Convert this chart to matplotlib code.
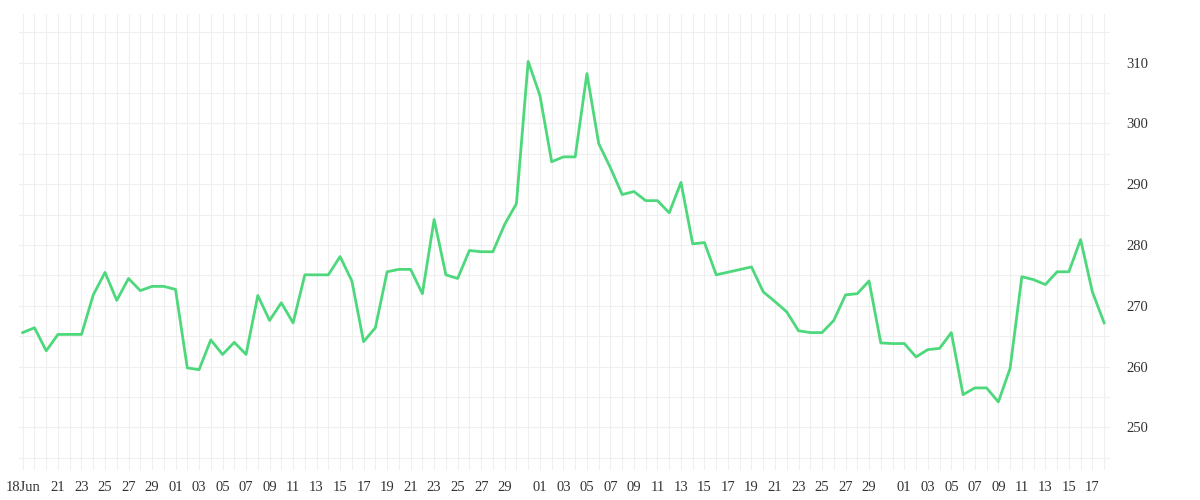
import matplotlib.pyplot as plt
import numpy as np

# day offset from 18 Jun, value
days = [0, 1, 2, 3, 4, 5, 6, 7, 8, 9, 10, 11, 12, 13, 14, 15, 16, 17, 18, 19,
        20, 21, 22, 23, 24, 25, 26, 27, 28, 29, 30, 31, 32, 33, 34, 35, 36, 37, 38, 39,
        40, 41, 42, 43, 44, 45, 46, 47, 48, 49, 50, 51, 52, 53, 54, 55, 56, 57, 58, 59,
        62, 63, 64, 65, 66, 67, 68, 69, 70, 71, 72, 73, 74, 75, 76, 77, 78, 79, 80,
        81, 82, 83, 84, 85, 86, 87, 88, 89, 90, 91, 92]
vals = [265.6, 266.4, 262.6, 265.3, 265.3, 265.3, 271.8, 275.5, 270.9, 274.5,
        272.5, 273.2, 273.2, 272.7, 259.8, 259.5, 264.4, 262.0, 264.0, 262.0,
        271.7, 267.6, 270.5, 267.2, 275.1, 275.1, 275.1, 278.1, 274.1, 264.1,
        266.4, 275.6, 276.0, 276.0, 272.0, 284.2, 275.1, 274.5, 279.1, 278.9,
        278.9, 283.4, 286.8, 310.2, 304.6, 293.7, 294.5, 294.5, 308.2, 296.7,
        292.7, 288.3, 288.8, 287.3, 287.3, 285.3, 290.3, 280.2, 280.4, 275.1,
        276.4, 272.3, 270.7, 269.0, 265.9, 265.6, 265.6, 267.6, 271.8, 272.0,
        274.1, 263.9, 263.8, 263.8, 261.6, 262.8, 263.0, 265.6, 255.4, 256.5,
        256.5, 254.2, 259.7, 274.8, 274.3, 273.5, 275.6, 275.6, 280.9, 272.3, 267.2]

# tick labels (odd days, first is 18Jun)
tick_days = [0, 3, 5, 7, 9, 11, 13, 15, 17, 19, 21, 23, 25, 27, 29, 31, 33, 35, 37, 39,
             41, 44, 46, 48, 50, 52, 54, 56, 58, 60, 62, 64, 66, 68, 70, 72, 75, 77,
             79, 81, 83, 85, 87, 89, 91]
tick_labels = ['18Jun', '21', '23', '25', '27', '29', '01', '03', '05', '07', '09', '11',
               '13', '15', '17', '19', '21', '23', '25', '27', '29', '01', '03', '05',
               '07', '09', '11', '13', '15', '17', '19', '21', '23', '25', '27', '29',
               '01', '03', '05', '07', '09', '11', '13', '15', '17']

plt.rcParams['font.family'] = ['Liberation Serif', 'DejaVu Serif']
fig = plt.figure(figsize=(12, 5), dpi=100)
ax = fig.add_axes([0.016, 0.06, 0.909, 0.912])
ax.plot(days, vals, color='#4dd87c', lw=2)
ax.set_xlim(-0.3, 92.5)
ax.set_ylim(243, 318)
ax.yaxis.tick_right()
ax.set_yticks(range(250, 311, 10))
ax.set_yticks(range(245, 318, 5), minor=True)
ax.set_xticks(tick_days)
ax.set_xticklabels(tick_labels)
ax.set_xticks(np.arange(0, 93), minor=True)
ax.grid(True, which='both', color='#efefef', lw=0.8)
ax.set_axisbelow(True)
for s in ax.spines.values():
    s.set_visible(False)
ax.tick_params(which='both', length=0, labelsize=10.5, colors='#333333')
ax.tick_params(axis='y', pad=12)
ax.tick_params(axis='x', pad=8)
fig.savefig('out.png')
